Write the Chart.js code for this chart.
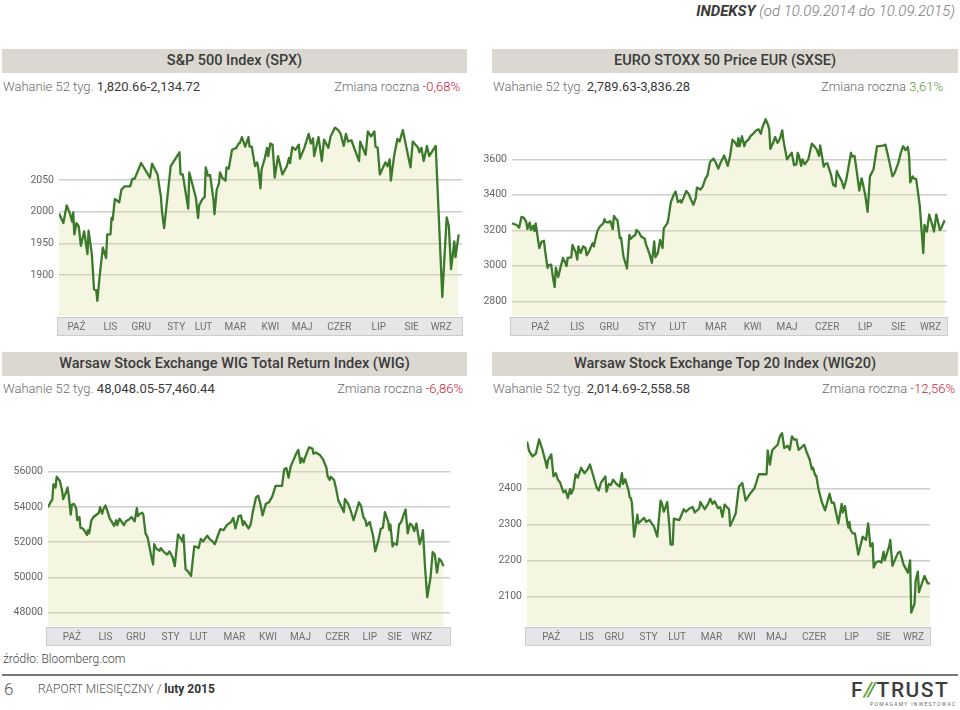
<!DOCTYPE html>
<html lang="pl">

<head>
    <meta charset="UTF-8">
    <script src="https://cdn.jsdelivr.net/npm/chart.js"></script>
    <title>Indeksy</title>
    <style>
        body { margin: 0; width: 960px; height: 710px; position: relative; overflow: hidden; background: #fff; font-family: Roboto, "Open Sans", sans-serif; color: #333; }
        .abs { position: absolute; white-space: nowrap; }
        .page-title { top: 2px; right: 5px; font-size: 15px; font-style: italic; color: #7a7a7a; font-weight: 300; }
        .page-title b { color: #3a3a3a; font-weight: 700; }
        .bar { height: 24px; line-height: 24px; background: #dbd8d1; text-align: center; font-size: 14.5px; font-weight: 500; color: #3a3a3a; }
        .stat { font-size: 13px; color: #6a6a6a; font-weight: 300; line-height: 16px; }
        .stat b { color: #3a3a3a; font-weight: 400; }
        .red { color: #c8233a; }
        .green { color: #5a9a3a; }
        canvas { position: absolute; }
        .src { left: 3px; top: 652px; font-size: 12px; color: #444; font-weight: 300; }
        .rule { left: 2px; top: 674px; width: 956px; height: 2px; background: #777; }
        .pgnum { left: 4px; top: 679px; font-size: 17px; color: #555; font-weight: 300; }
        .raport { left: 38px; top: 682px; font-size: 12px; color: #555; font-weight: 300; }
        .raport b { color: #333; font-weight: 700; }
        .logo { left: 851px; top: 678px; font-size: 21px; font-weight: 500; color: #3d3d3d; letter-spacing: 1.5px; }
        .logo span { color: #5f9e3a; font-style: italic; letter-spacing: -2px; margin-right: 3px; }
        .tag { left: 870px; top: 701px; font-size: 5px; letter-spacing: 1.3px; color: #666; }
    </style>
</head>

<body>
    <div class="abs page-title"><b>INDEKSY</b> (od 10.09.2014 do 10.09.2015)</div>

    <!-- gorny rzad -->
    <div class="abs bar" style="left:2px; top:49px; width:465px;">S&amp;P 500 Index (SPX)</div>
    <div class="abs stat" style="left:3px; top:79px;">Wahanie 52 tyg. <b>1,820.66-2,134.72</b></div>
    <div class="abs stat" style="right:500px; top:79px;">Zmiana roczna <span class="red">-0,68%</span></div>

    <div class="abs bar" style="left:492px; top:49px; width:466px;">EURO STOXX 50 Price EUR (SXSE)</div>
    <div class="abs stat" style="left:493px; top:79px;">Wahanie 52 tyg. <b>2,789.63-3,836.28</b></div>
    <div class="abs stat" style="right:17px; top:79px;">Zmiana roczna <span class="green">3,61%</span></div>

    <!-- dolny rzad -->
    <div class="abs bar" style="left:2px; top:352px; width:465px;">Warsaw Stock Exchange WIG Total Return Index (WIG)</div>
    <div class="abs stat" style="left:3px; top:381px;">Wahanie 52 tyg. <b>48,048.05-57,460.44</b></div>
    <div class="abs stat" style="right:497px; top:381px;">Zmiana roczna <span class="red">-6,86%</span></div>

    <div class="abs bar" style="left:492px; top:352px; width:466px;">Warsaw Stock Exchange Top 20 Index (WIG20)</div>
    <div class="abs stat" style="left:493px; top:381px;">Wahanie 52 tyg. <b>2,014.69-2,558.58</b></div>
    <div class="abs stat" style="right:5px; top:381px;">Zmiana roczna <span class="red">-12,56%</span></div>

    <canvas id="spx"></canvas>
    <canvas id="sxse"></canvas>
    <canvas id="wig"></canvas>
    <canvas id="wig20"></canvas>

    <!-- stopka -->
    <div class="abs src">źródło: Bloomberg.com</div>
    <div class="abs rule"></div>
    <div class="abs pgnum">6</div>
    <div class="abs raport">RAPORT MIESIĘCZNY / <b>luty 2015</b></div>
    <div class="abs logo">F<span>//</span>TRUST</div>
    <div class="abs tag">POMAGAMY INWESTOWAĆ</div>

    <script>
        // dane: dzien od 10.09.2014 i wartosc indeksu (odczyt z wykresu)
        const months = ['PAŹ', 'LIS', 'GRU', 'STY', 'LUT', 'MAR', 'KWI', 'MAJ', 'CZER', 'LIP', 'SIE', 'WRZ'];

        const spxDays = [
            0, 4, 7, 10, 12, 13, 14, 16, 18, 20,
            23, 26, 27, 30, 32, 34, 35, 37, 40, 43,
            44, 47, 48, 49, 51, 55, 57, 60, 65, 67,
            69, 75, 83, 85, 90, 92, 93, 94, 96, 102,
            110, 111, 113, 118, 119, 125, 127, 128, 131, 133,
            134, 136, 138, 141, 142, 144, 146, 147, 149, 152,
            153, 155, 158, 162, 164, 165, 167, 170, 173, 174,
            176, 179, 181, 182, 184, 185, 188, 190, 191, 193,
            195, 197, 200, 204, 208, 210, 211, 213, 216, 219,
            220, 224, 228, 230, 232, 233, 237, 240, 242, 246,
            248, 252, 255, 257, 260, 262, 264, 267, 274, 275,
            280, 282, 285, 288, 289, 291, 293, 298, 300, 302,
            303, 306, 309, 311, 314, 321, 323, 328, 329, 331,
            333, 336, 338, 344, 350, 354, 356, 358, 361, 362,
            365];
        const spxValues = [
            1997, 1982, 2010, 1997, 1984, 1999, 1964, 1982, 1977, 1946,
            1969, 1933, 1970, 1933, 1877, 1876, 1859, 1896, 1943, 1927,
            1964, 1964, 1990, 1987, 2020, 2015, 2035, 2040, 2040, 2052,
            2052, 2077, 2054, 2076, 2059, 2035, 2025, 2001, 1974, 2072,
            2094, 2059, 2059, 2005, 2062, 2022, 1990, 2010, 2020, 2023,
            2070, 2057, 2058, 2020, 1996, 2035, 2044, 2062, 2054, 2049,
            2070, 2068, 2098, 2101, 2108, 2108, 2118, 2103, 2118, 2103,
            2103, 2072, 2078, 2068, 2037, 2067, 2085, 2101, 2088, 2108,
            2106, 2054, 2088, 2059, 2072, 2085, 2077, 2102, 2098, 2106,
            2084, 2101, 2123, 2108, 2116, 2088, 2118, 2080, 2114, 2101,
            2119, 2133, 2129, 2124, 2104, 2123, 2111, 2113, 2080, 2111,
            2090, 2127, 2119, 2127, 2103, 2101, 2059, 2078, 2072, 2083,
            2049, 2088, 2115, 2111, 2129, 2070, 2111, 2101, 2094, 2101,
            2080, 2104, 2088, 2104, 1865, 1991, 1977, 1909, 1953, 1928,
            1964];
        const spxTicks = [1900, 1950, 2000, 2050];

        const sxseDays = [
            0, 4, 6, 8, 10, 12, 13, 15, 16, 18,
            19, 20, 23, 25, 27, 28, 30, 31, 33, 35,
            36, 37, 39, 41, 43, 45, 46, 47, 50, 51,
            54, 55, 56, 58, 60, 62, 63, 65, 68, 69,
            72, 74, 77, 78, 79, 81, 83, 85, 86, 87,
            89, 91, 92, 94, 97, 99, 100, 102, 104, 105,
            107, 109, 112, 113, 116, 118, 120, 121, 123, 125,
            127, 128, 131, 132, 134, 136, 138, 140, 142, 143,
            145, 147, 149, 151, 153, 155, 156, 159, 161, 163,
            165, 167, 170, 172, 174, 176, 179, 182, 184, 186,
            188, 190, 191, 192, 194, 196, 197, 200, 201, 204,
            206, 208, 210, 211, 214, 216, 217, 218, 220, 222,
            224, 226, 228, 229, 232, 234, 236, 238, 240, 241,
            242, 244, 245, 247, 250, 253, 255, 257, 259, 260,
            263, 264, 266, 269, 271, 273, 274, 276, 278, 280,
            282, 286, 287, 289, 291, 293, 295, 298, 300, 302,
            305, 308, 310, 313, 315, 317, 321, 323, 326, 328,
            330, 332, 334, 335, 336, 338, 339, 341, 344, 347,
            348, 350, 352, 354, 356, 358, 361, 362, 365];
        const sxseValues = [
            3239, 3230, 3215, 3276, 3270, 3248, 3207, 3244, 3202, 3226,
            3196, 3239, 3100, 3137, 3141, 3081, 2989, 3004, 3007, 2915,
            2881, 2989, 2937, 2993, 3044, 3017, 2998, 3044, 3048, 3118,
            3072, 3035, 3109, 3072, 3109, 3100, 3059, 3081, 3128, 3109,
            3196, 3220, 3239, 3263, 3248, 3244, 3252, 3207, 3281, 3270,
            3256, 3156, 3159, 3054, 2985, 3174, 3152, 3165, 3174, 3202,
            3189, 3165, 3152, 3122, 3067, 3017, 3137, 3048, 3072, 3146,
            3100, 3211, 3239, 3267, 3359, 3393, 3419, 3359, 3369, 3356,
            3387, 3422, 3406, 3374, 3344, 3381, 3441, 3430, 3448, 3489,
            3511, 3585, 3604, 3581, 3548, 3581, 3622, 3563, 3619, 3711,
            3696, 3674, 3720, 3674, 3730, 3674, 3696, 3715, 3730, 3748,
            3763, 3770, 3744, 3776, 3826, 3794, 3770, 3659, 3689, 3726,
            3693, 3715, 3763, 3707, 3600, 3619, 3637, 3567, 3572, 3637,
            3622, 3563, 3600, 3572, 3600, 3689, 3674, 3656, 3619, 3678,
            3559, 3572, 3578, 3517, 3456, 3448, 3535, 3504, 3480, 3437,
            3485, 3637, 3615, 3619, 3526, 3424, 3493, 3400, 3304, 3504,
            3544, 3674, 3674, 3678, 3683, 3628, 3504, 3526, 3581, 3637,
            3674, 3652, 3670, 3619, 3470, 3504, 3493, 3489, 3341, 3072,
            3230, 3193, 3289, 3244, 3193, 3289, 3202, 3211, 3257];
        const sxseTicks = [2800, 3000, 3200, 3400, 3600];

        const wigDays = [
            0, 2, 4, 5, 7, 8, 11, 13, 14, 16,
            18, 19, 21, 22, 24, 26, 27, 29, 30, 32,
            34, 36, 37, 38, 40, 42, 47, 48, 50, 51,
            53, 55, 57, 59, 61, 63, 64, 66, 68, 70,
            72, 75, 77, 80, 82, 83, 85, 87, 88, 90,
            92, 95, 97, 98, 100, 103, 104, 107, 110, 112,
            115, 117, 120, 122, 124, 125, 127, 129, 132, 135,
            137, 139, 141, 143, 147, 149, 152, 154, 157, 159,
            162, 165, 169, 171, 173, 176, 178, 180, 181, 185,
            187, 189, 192, 194, 196, 198, 201, 204, 207, 210,
            212, 216, 218, 220, 222, 224, 226, 229, 231, 233,
            234, 236, 237, 241, 244, 245, 247, 251, 254, 257,
            258, 260, 261, 264, 266, 268, 271, 273, 274, 277,
            279, 282, 287, 289, 291, 293, 294, 297, 298, 300,
            302, 305, 307, 309, 311, 314, 315, 316, 318, 319,
            322, 324, 326, 327, 330, 332, 333, 334, 336, 338,
            340, 343, 345, 346, 348, 350, 353, 355, 357, 359,
            361, 363, 365];
        const wigValues = [
            53991, 54233, 54419, 55293, 55107, 55721, 55479, 54921, 54456, 54735,
            55107, 54735, 53563, 54121, 54177, 53935, 53247, 53433, 52819, 52782,
            52633, 52410, 52689, 52503, 53247, 53433, 53675, 53991, 53619, 53861,
            54084, 53749, 53340, 53154, 52931, 53247, 52968, 53340, 53154, 52968,
            53191, 53303, 53433, 53191, 53935, 53489, 53619, 53675, 53563, 52503,
            52261, 51294, 50736, 51889, 51629, 51517, 51666, 51443, 51294, 51480,
            51145, 50643, 52447, 52261, 52038, 52410, 50457, 50364, 50085, 51759,
            51741, 51666, 52187, 52038, 52373, 52187, 52038, 51889, 52410, 52745,
            52689, 52968, 53154, 53377, 52782, 53489, 53526, 52968, 53191, 52782,
            53005, 53712, 54549, 54642, 54177, 53526, 54177, 54270, 54605, 55200,
            55200, 55200, 56130, 56223, 55665, 56316, 56595, 57023, 57246, 56502,
            56781, 56539, 56781, 57395, 57321, 57023, 57097, 56949, 56688, 56223,
            55758, 55535, 55721, 55535, 55014, 54363, 53991, 53712, 54456, 54177,
            53861, 53247, 54270, 54047, 53433, 53247, 52931, 53154, 52875, 52373,
            51480, 52131, 52745, 52819, 53712, 53154, 52689, 53005, 51759, 51945,
            51852, 53005, 53154, 53340, 53861, 52503, 52782, 53061, 52968, 52633,
            53061, 51889, 52317, 52689, 50550, 48876, 49992, 51443, 51294, 50271,
            51071, 50922, 50643];
        const wigTicks = [48000, 50000, 52000, 54000, 56000];

        const wig20Days = [
            0, 2, 5, 8, 11, 14, 17, 18, 19, 22,
            24, 26, 28, 30, 33, 35, 37, 39, 40, 42,
            44, 46, 49, 52, 55, 57, 60, 63, 65, 67,
            71, 72, 74, 76, 78, 81, 84, 86, 87, 89,
            92, 93, 94, 95, 97, 100, 101, 106, 108, 111,
            115, 118, 121, 122, 124, 127, 129, 130, 132, 133,
            138, 142, 144, 147, 150, 152, 156, 157, 161, 164,
            166, 168, 170, 173, 175, 177, 179, 181, 183, 184,
            186, 189, 191, 192, 195, 198, 202, 206, 210, 214,
            217, 218, 220, 222, 224, 227, 229, 231, 233, 236,
            238, 240, 242, 244, 246, 247, 251, 253, 256, 258,
            259, 261, 262, 264, 267, 270, 274, 276, 278, 282,
            285, 286, 288, 290, 291, 292, 293, 295, 297, 300,
            303, 304, 307, 309, 311, 313, 314, 316, 319, 321,
            323, 324, 328, 329, 331, 334, 336, 338, 341, 345,
            347, 348, 351, 352, 354, 355, 360, 363, 365];
        const wig20Values = [
            2530, 2503, 2489, 2496, 2536, 2507, 2471, 2457, 2478, 2494,
            2433, 2442, 2424, 2416, 2389, 2394, 2373, 2398, 2385, 2398,
            2439, 2430, 2457, 2442, 2453, 2466, 2435, 2403, 2394, 2416,
            2433, 2391, 2412, 2409, 2424, 2412, 2405, 2442, 2412, 2425,
            2394, 2375, 2373, 2360, 2266, 2327, 2303, 2318, 2307, 2312,
            2294, 2266, 2366, 2360, 2335, 2362, 2294, 2244, 2244, 2316,
            2312, 2342, 2335, 2344, 2348, 2333, 2344, 2362, 2342, 2357,
            2371, 2357, 2364, 2345, 2348, 2321, 2355, 2348, 2342, 2296,
            2309, 2330, 2382, 2405, 2415, 2366, 2385, 2400, 2439, 2439,
            2439, 2505, 2466, 2505, 2512, 2521, 2544, 2553, 2512, 2518,
            2507, 2544, 2535, 2536, 2507, 2509, 2521, 2503, 2480, 2453,
            2457, 2436, 2435, 2398, 2362, 2339, 2385, 2360, 2360, 2303,
            2357, 2333, 2351, 2307, 2291, 2307, 2285, 2275, 2275, 2216,
            2253, 2266, 2257, 2303, 2239, 2248, 2180, 2194, 2198, 2194,
            2224, 2200, 2239, 2257, 2185, 2207, 2221, 2224, 2189, 2166,
            2200, 2055, 2080, 2144, 2169, 2112, 2157, 2136, 2136];
        const wig20Ticks = [2100, 2200, 2300, 2400];

        // polozenie podpisow miesiecy (w dniach) dla kazdego wykresu
        const spxMonthDays = [16, 47, 75, 107, 132, 161, 193, 222, 256, 292, 322, 349];
        const sxseMonthDays = [24, 55, 82, 114, 140, 172, 203, 232, 266, 298, 326, 353];
        const wigMonthDays = [22, 53, 81, 113, 139, 172, 203, 233, 267, 297, 320, 345];
        const wig20MonthDays = [22, 54, 79, 110, 136, 167, 199, 226, 260, 294, 323, 350];

        // uklad: obszar wykresu w pikselach strony + zakres osi
        const charts = [
            { id: 'spx', days: spxDays, values: spxValues, yTicks: spxTicks, monthDays: spxMonthDays,
              box: { left: 59, top: 118, right: 462, bottom: 316 }, yMin: 1835, yMax: 2143, xMax: 368 },
            { id: 'sxse', days: sxseDays, values: sxseValues, yTicks: sxseTicks, monthDays: sxseMonthDays,
              box: { left: 512, top: 114, right: 947, bottom: 316 }, yMin: 2717, yMax: 3837, xMax: 367 },
            { id: 'wig', days: wigDays, values: wigValues, yTicks: wigTicks, monthDays: wigMonthDays,
              box: { left: 48, top: 440, right: 450, bottom: 626 }, yMin: 47240, yMax: 57620, xMax: 371 },
            { id: 'wig20', days: wig20Days, values: wig20Values, yTicks: wig20Ticks, monthDays: wig20MonthDays,
              box: { left: 527, top: 427, right: 930, bottom: 626 }, yMin: 2018, yMax: 2561, xMax: 365 }
        ];

        const AXIS_W = 50, BAND_H = 21, PAD_T = 8, PAD_R = 10, PAD_B = 4;

        // szary pasek pod osia X
        const bandPlugin = {
            id: 'band',
            beforeDraw(chart) {
                const x = chart.scales.x;
                const ctx = chart.ctx;
                ctx.save();
                ctx.fillStyle = '#e5e6e8';
                ctx.fillRect(x.left - 2, x.top + 1, x.width + 3, x.height - 2);
                ctx.strokeStyle = '#c9cbce';
                ctx.lineWidth = 1;
                ctx.strokeRect(x.left - 1.5, x.top + 1.5, x.width + 2, x.height - 3);
                ctx.restore();
            }
        };

        Chart.defaults.font.family = 'Roboto, sans-serif';

        charts.forEach(c => {
            const canvas = document.getElementById(c.id);
            const w = c.box.right - c.box.left + AXIS_W + PAD_R;
            const h = c.box.bottom - c.box.top + PAD_T + BAND_H + PAD_B;
            canvas.width = w;
            canvas.height = h;
            canvas.style.left = (c.box.left - AXIS_W) + 'px';
            canvas.style.top = (c.box.top - PAD_T) + 'px';

            new Chart(canvas.getContext('2d'), {
                type: 'line',
                data: {
                    datasets: [{
                        data: c.days.map((d, i) => ({ x: d, y: c.values[i] })),
                        borderColor: '#3b7a2b',
                        borderWidth: 2.3,
                        borderJoinStyle: 'round',
                        pointRadius: 0,
                        tension: 0,
                        fill: 'start',
                        backgroundColor: 'rgba(218, 224, 160, 0.3)'
                    }]
                },
                options: {
                    responsive: false,
                    animation: false,
                    layout: { padding: { left: 0, top: PAD_T, right: PAD_R, bottom: PAD_B } },
                    plugins: { legend: { display: false }, tooltip: { enabled: false } },
                    scales: {
                        x: {
                            type: 'linear',
                            min: 0,
                            max: c.xMax,
                            grid: { display: false, drawTicks: false },
                            border: { display: false },
                            afterFit: s => { s.height = BAND_H; },
                            afterBuildTicks: s => { s.ticks = c.monthDays.map(v => ({ value: v })); },
                            ticks: {
                                autoSkip: false,
                                maxRotation: 0,
                                padding: 5,
                                color: '#6e6e6e',
                                font: { size: 10 },
                                callback: (v, i) => months[i]
                            }
                        },
                        y: {
                            min: c.yMin,
                            max: c.yMax,
                            grid: { color: '#cdcdcd', lineWidth: 1.5, drawTicks: false },
                            border: { display: false },
                            afterFit: s => { s.width = AXIS_W; },
                            afterBuildTicks: s => { s.ticks = c.yTicks.map(v => ({ value: v })); },
                            ticks: {
                                padding: 5,
                                color: '#666',
                                font: { size: 10.5 },
                                callback: v => String(v)
                            }
                        }
                    }
                },
                plugins: [bandPlugin]
            });
        });
    </script>
</body>

</html>
